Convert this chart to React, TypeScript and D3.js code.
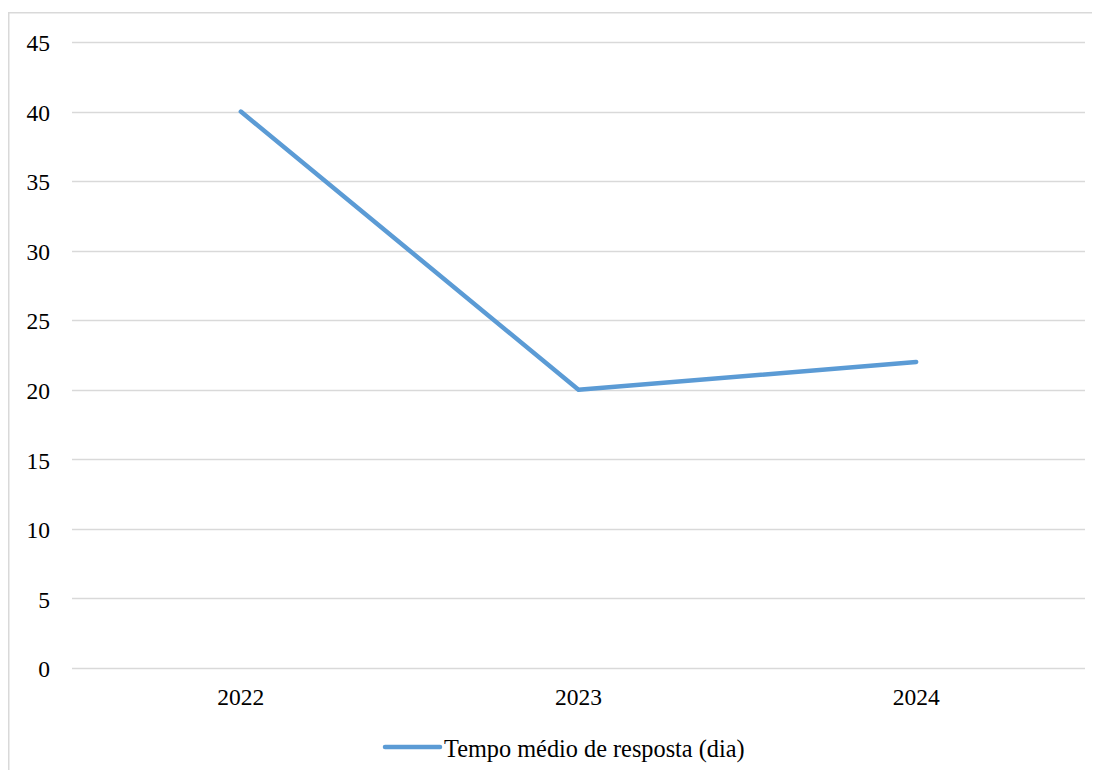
import React, { useEffect, useRef } from "react";
import * as d3 from "d3";

const years = ["2022", "2023", "2024"];
const tempoMedio = [40, 20, 22];
const yTicks = [0, 5, 10, 15, 20, 25, 30, 35, 40, 45];
const seriesName = "Tempo médio de resposta (dia)";

const App = () => {
  const svgRef = useRef<SVGSVGElement>(null);
  const width = 1092;
  const height = 770;
  const plotRight = 1077;
  const margin = { top: 34, bottom: 110, left: 64 };
  const font = "'Liberation Serif', 'Times New Roman', serif";
  const fontSize = 23.5;

  useEffect(() => {
    const svg = d3.select(svgRef.current);
    svg.selectAll("*").remove();

    // chart frame: only top and left edges fall inside the window
    svg.append("path")
      .attr("d", `M0.75,${height}V4.75H${width}`)
      .attr("fill", "none")
      .attr("stroke", "#d9d9d9").attr("stroke-width", 1.5);

    const x = d3.scaleBand().domain(years).range([margin.left, plotRight]);
    const y = d3.scaleLinear().domain([0, 45]).range([height - margin.bottom, margin.top]);

    const g = svg.append("g");

    g.selectAll(".grid")
      .data(yTicks)
      .join("line")
      .attr("x1", margin.left).attr("x2", plotRight)
      .attr("y1", (d) => Math.round(y(d)) + 0.5).attr("y2", (d) => Math.round(y(d)) + 0.5)
      .attr("stroke", "#d9d9d9").attr("stroke-width", 1.5);

    g.selectAll(".ylab")
      .data(yTicks)
      .join("text")
      .attr("x", 42).attr("y", (d) => y(d) + 1)
      .attr("dy", "0.35em")
      .attr("text-anchor", "end")
      .attr("font-family", font).attr("font-size", fontSize)
      .attr("fill", "#000")
      .text((d) => d);

    g.selectAll(".xlab")
      .data(years)
      .join("text")
      .attr("x", (d) => x(d)! + x.bandwidth() / 2)
      .attr("y", height - margin.bottom + 29)
      .attr("dy", "0.35em")
      .attr("text-anchor", "middle")
      .attr("font-family", font).attr("font-size", fontSize)
      .attr("fill", "#000")
      .text((d) => d);

    const line = d3.line<number>()
      .x((_, i) => x(years[i])! + x.bandwidth() / 2)
      .y((d) => y(d));

    g.append("path")
      .datum(tempoMedio)
      .attr("d", line)
      .attr("fill", "none")
      .attr("stroke", "#5b9bd5")
      .attr("stroke-width", 4.5)
      .attr("stroke-linecap", "round")
      .attr("stroke-linejoin", "round");

    // legend
    const ly = 739;
    g.append("line")
      .attr("x1", 377).attr("x2", 432)
      .attr("y1", ly).attr("y2", ly)
      .attr("stroke", "#5b9bd5").attr("stroke-width", 4.5)
      .attr("stroke-linecap", "round");
    g.append("text")
      .attr("x", 436).attr("y", ly + 1)
      .attr("dy", "0.35em")
      .attr("font-family", font).attr("font-size", 24.3)
      .attr("fill", "#000")
      .text(seriesName);
  }, []);

  return (
    <div style={{ width: 1092, height: 762, overflow: "hidden" }}>
      <svg ref={svgRef} width={width} height={height} style={{ display: "block" }}></svg>
    </div>
  );
};

export default App;
